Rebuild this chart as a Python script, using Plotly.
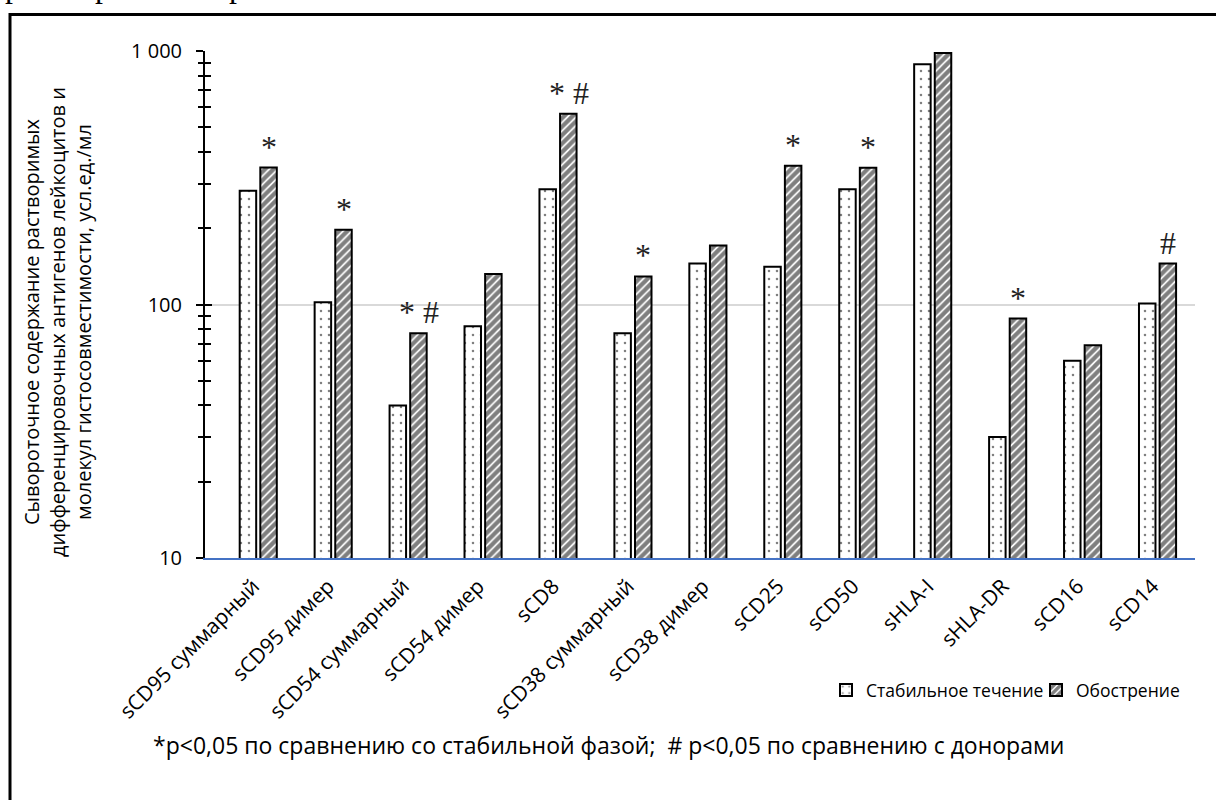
import math
import plotly.graph_objects as go

# Serum levels of soluble leukocyte differentiation antigens and HLA molecules
categories = [
    "sCD95 суммарный", "sCD95 димер", "sCD54 суммарный", "sCD54 димер", "sCD8",
    "sCD38 суммарный", "sCD38 димер", "sCD25", "sCD50", "sHLA-I", "sHLA-DR",
    "sCD16", "sCD14",
]
stable = [281, 102, 40, 82, 285, 77, 145, 141, 285, 887, 30, 60, 101]
exacerbation = [347, 197, 77, 132, 565, 129, 171, 353, 346, 982, 88, 69, 145]
# significance marks above the exacerbation bars
marks = ["*", "*", "* #", "", "* #", "*", "", "*", "*", "", "*", "", "#"]

series_names = ["Стабильное течение", "Обострение"]
tick_vals = [10, 100, 1000]
tick_text = ["10", "100", "1 000"]
y_title = ("Сывороточное содержание растворимых<br>"
           "дифференцировочных антигенов лейкоцитов и<br>"
           "молекул гистосовместимости, усл.ед./мл")
footnote = "*р<0,05 по сравнению со стабильной фазой;  # р<0,05 по сравнению с донорами"

SANS = "Open Sans"
SERIF = "Liberation Serif"

W, H = 1216, 800
L, R, T, B = 205, 21, 51, 242
plot_w, plot_h = W - L - R, H - T - B


def px_x(px):
    return (px - L) / plot_w


def px_y(py):
    return (H - B - py) / plot_h


fig = go.Figure()

fig.add_trace(go.Bar(
    name=series_names[0], x=categories, y=stable, legend="legend",
    marker=dict(color="white", line=dict(color="black", width=2),
                pattern=dict(shape=".", size=8, solidity=0.08,
                             fgcolor="black", bgcolor="white")),
))
fig.add_trace(go.Bar(
    name=series_names[1], x=categories, y=exacerbation, legend="legend2",
    marker=dict(color="white", line=dict(color="black", width=2),
                pattern=dict(shape="/", size=6, solidity=0.7,
                             fgcolor="black", bgcolor="white")),
))
# carrier for the overlay axis that draws the inner half of the crossing ticks
fig.add_trace(go.Scatter(x=[categories[0]], y=[10], yaxis="y2", mode="markers",
                         marker=dict(opacity=0), showlegend=False, hoverinfo="skip"))

annotations = []
for cat, val, m in zip(categories, exacerbation, marks):
    if not m:
        continue
    annotations.append(dict(
        x=cat, y=math.log10(val), xref="x", yref="y",
        text=m, showarrow=False, xshift=10.5, yshift=2,
        xanchor="center", yanchor="bottom", borderpad=0,
        font=dict(family=SERIF, size=32, color="#222222"),
    ))

annotations.append(dict(
    x=px_x(57), y=px_y(322), xref="paper", yref="paper", text=y_title,
    textangle=-90, showarrow=False, xanchor="center", yanchor="middle",
    align="center", font=dict(family=SANS, size=20, color="black"),
))
annotations.append(dict(
    x=px_x(608), y=px_y(745), xref="paper", yref="paper", text=footnote,
    showarrow=False, xanchor="center", yanchor="middle",
    font=dict(family=SANS, size=23, color="black"),
))
# descenders of the line of text just above the frame
for xp in (13, 103, 237):
    annotations.append(dict(
        x=px_x(xp), y=px_y(5), xref="paper", yref="paper", text="р",
        showarrow=False, xanchor="center", yanchor="bottom", borderpad=0,
        font=dict(family=SERIF, size=32, color="black"),
    ))

legend_common = dict(orientation="h", xanchor="left", y=px_y(690),
                     yanchor="middle", font=dict(family=SANS, size=17.5),
                     bgcolor="rgba(0,0,0,0)", itemwidth=30)

fig.update_layout(
    width=W, height=H,
    margin=dict(l=L, r=R, t=T, b=B, pad=0),
    paper_bgcolor="white", plot_bgcolor="white",
    barmode="group", bargap=0.45, bargroupgap=0.2,
    font=dict(family=SANS, size=18, color="black"),
    showlegend=True,
    legend=dict(x=px_x(826), **legend_common),
    legend2=dict(x=px_x(1036), **legend_common),
    annotations=annotations,
    shapes=[dict(type="rect", xref="paper", yref="paper",
                 x0=px_x(10), x1=px_x(W + 40), y0=px_y(H + 40), y1=px_y(14.5),
                 line=dict(color="black", width=3), fillcolor="rgba(0,0,0,0)",
                 layer="above")],
    xaxis=dict(
        type="category", tickangle=-45, showline=True, linecolor="#4472C4",
        linewidth=1.5, ticks="", showgrid=False, zeroline=False,
        tickfont=dict(family=SANS, size=21),
        ticklabelstandoff=6, ticklabelshift=-5,
    ),
    yaxis=dict(
        type="log", range=[1, 3], tickvals=tick_vals, ticktext=tick_text,
        showline=True, linecolor="black", linewidth=2,
        ticks="outside", ticklen=7, tickwidth=2, tickcolor="black",
        showgrid=True, gridcolor="#d9d9d9", gridwidth=1.5,
        zeroline=False, tickfont=dict(family=SANS, size=20),
        ticklabelstandoff=10,
        minor=dict(ticks="outside", ticklen=5, tickwidth=2, tickcolor="black",
                   dtick="D1", showgrid=False),
    ),
    yaxis2=dict(
        type="log", range=[1, 3], overlaying="y", side="left",
        tickvals=tick_vals, showticklabels=False, showline=False,
        ticks="inside", ticklen=7, tickwidth=2, tickcolor="black",
        showgrid=False, zeroline=False,
        minor=dict(ticks="inside", ticklen=6, tickwidth=2, tickcolor="black",
                   dtick="D1", showgrid=False),
    ),
)

fig.write_html("out.html")
